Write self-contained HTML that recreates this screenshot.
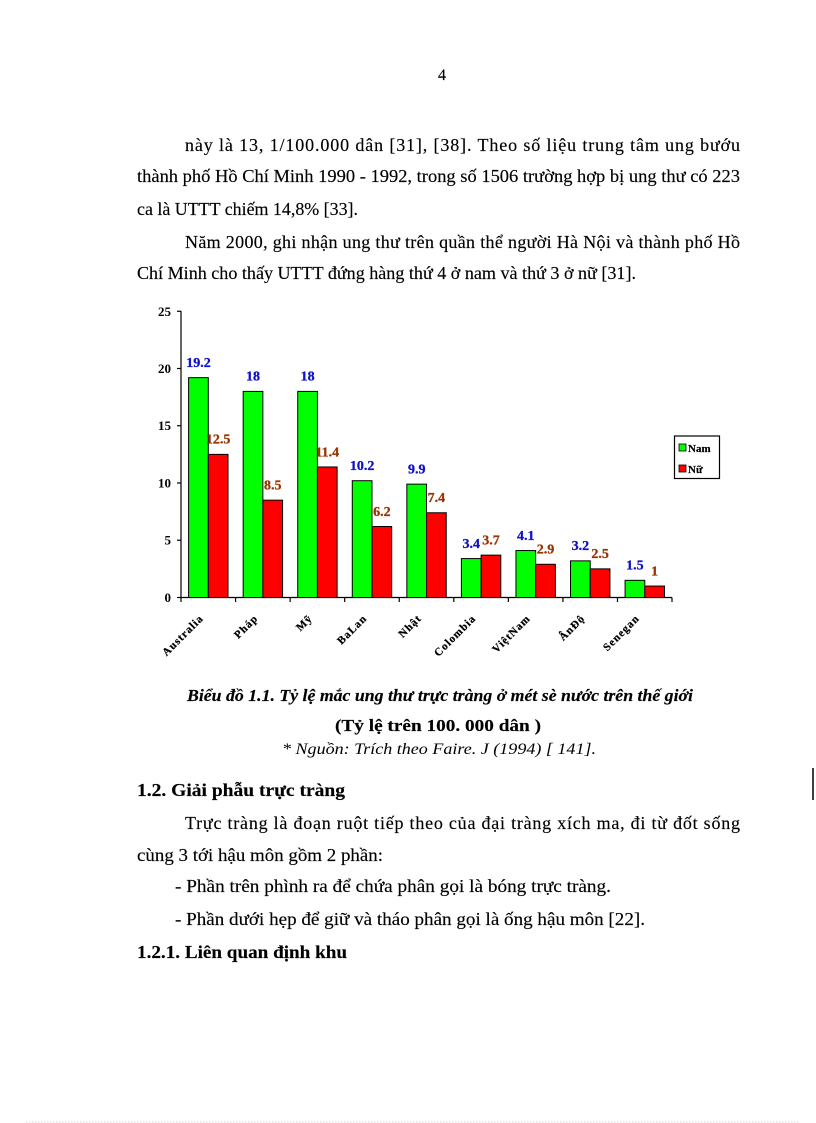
<!DOCTYPE html>
<html><head><meta charset="utf-8"><style>
html,body{margin:0;padding:0;background:#fff;}
svg{display:block;}
.t{font-family:"Liberation Serif","Noto Serif CJK SC",serif;font-size:18px;fill:#000;stroke:#000;stroke-width:0.15;}
.ax{font-family:"Liberation Serif",serif;font-weight:bold;font-size:13px;fill:#000;}
.gl{font-family:"Liberation Serif",serif;font-weight:bold;font-size:14px;fill:#1010c8;stroke:#1010c8;stroke-width:0.3;}
.rl{font-family:"Liberation Serif",serif;font-weight:bold;font-size:14px;fill:#993300;stroke:#993300;stroke-width:0.3;}
.cl{font-family:"Liberation Serif",serif;font-weight:bold;font-size:11px;fill:#000;letter-spacing:1px;stroke:#000;stroke-width:0.25;}
</style></head><body>
<svg width="816" height="1123" viewBox="0 0 816 1123" xmlns="http://www.w3.org/2000/svg">
<rect width="816" height="1123" fill="#fff"/>
<text class="t" x="442" y="80" text-anchor="middle" style="font-size:16px">4</text>

<text class="t" x="185" y="151" textLength="555" lengthAdjust="spacing">này là 13, 1/100.000 dân [31], [38]. Theo số liệu trung tâm ung bướu</text>
<text class="t" x="137" y="182" textLength="603" lengthAdjust="spacingAndGlyphs">thành phố Hồ Chí Minh 1990 - 1992, trong số 1506 trường hợp bị ung thư có 223</text>
<text class="t" x="137" y="215" textLength="221" lengthAdjust="spacingAndGlyphs">ca là UTTT chiếm 14,8% [33].</text>
<text class="t" x="185" y="248" textLength="555" lengthAdjust="spacing">Năm 2000, ghi nhận ung thư trên quần thể người Hà Nội và thành phố Hồ</text>
<text class="t" x="137" y="279" textLength="499" lengthAdjust="spacingAndGlyphs">Chí Minh cho thấy UTTT đứng hàng thứ 4 ở nam và thứ 3 ở nữ [31].</text>

<!-- chart -->
<g class="ax" text-anchor="end">
<text x="171" y="316">25</text>
<text x="171" y="373">20</text>
<text x="171" y="430">15</text>
<text x="171" y="487.5">10</text>
<text x="171" y="544.5">5</text>
<text x="171" y="602">0</text>
</g>
<g stroke="#000" stroke-width="1.2" fill="none">
<line x1="181" y1="311" x2="181" y2="602"/>
<line x1="177" y1="311.25" x2="181" y2="311.25"/>
<line x1="177" y1="368.5" x2="181" y2="368.5"/>
<line x1="177" y1="425.75" x2="181" y2="425.75"/>
<line x1="177" y1="483" x2="181" y2="483"/>
<line x1="177" y1="540.25" x2="181" y2="540.25"/>
<line x1="177" y1="597.5" x2="181" y2="597.5"/>
<line x1="181" y1="597.5" x2="672" y2="597.5"/>
<line x1="235.56" y1="597.5" x2="235.56" y2="602"/>
<line x1="290.12" y1="597.5" x2="290.12" y2="602"/>
<line x1="344.68" y1="597.5" x2="344.68" y2="602"/>
<line x1="399.24" y1="597.5" x2="399.24" y2="602"/>
<line x1="453.8" y1="597.5" x2="453.8" y2="602"/>
<line x1="508.36" y1="597.5" x2="508.36" y2="602"/>
<line x1="562.92" y1="597.5" x2="562.92" y2="602"/>
<line x1="617.48" y1="597.5" x2="617.48" y2="602"/>
<line x1="672" y1="597.5" x2="672" y2="602"/>
</g>
<g stroke="#000" stroke-width="1">
<rect x="188.6" y="377.66" width="19.7" height="219.84" fill="#00ff00"/>
<rect x="208.3" y="454.37" width="19.7" height="143.13" fill="#ff0000"/>
<rect x="243.16" y="391.4" width="19.7" height="206.1" fill="#00ff00"/>
<rect x="262.86" y="500.17" width="19.7" height="97.33" fill="#ff0000"/>
<rect x="297.72" y="391.4" width="19.7" height="206.1" fill="#00ff00"/>
<rect x="317.42" y="466.97" width="19.7" height="130.53" fill="#ff0000"/>
<rect x="352.28" y="480.71" width="19.7" height="116.79" fill="#00ff00"/>
<rect x="371.98" y="526.51" width="19.7" height="70.99" fill="#ff0000"/>
<rect x="406.84" y="484.14" width="19.7" height="113.36" fill="#00ff00"/>
<rect x="426.54" y="512.77" width="19.7" height="84.73" fill="#ff0000"/>
<rect x="461.4" y="558.57" width="19.7" height="38.93" fill="#00ff00"/>
<rect x="481.1" y="555.13" width="19.7" height="42.37" fill="#ff0000"/>
<rect x="515.96" y="550.55" width="19.7" height="46.95" fill="#00ff00"/>
<rect x="535.66" y="564.29" width="19.7" height="33.21" fill="#ff0000"/>
<rect x="570.52" y="560.86" width="19.7" height="36.64" fill="#00ff00"/>
<rect x="590.22" y="568.87" width="19.7" height="28.63" fill="#ff0000"/>
<rect x="625.08" y="580.32" width="19.7" height="17.18" fill="#00ff00"/>
<rect x="644.78" y="586.05" width="19.7" height="11.45" fill="#ff0000"/>
</g>
<g class="gl" text-anchor="middle">
<text x="198.45" y="367">19.2</text>
<text x="253.01" y="380.7">18</text>
<text x="307.57" y="380.7">18</text>
<text x="362.13" y="470">10.2</text>
<text x="416.69" y="473.4">9.9</text>
<text x="471.25" y="547.9">3.4</text>
<text x="525.81" y="539.9">4.1</text>
<text x="580.37" y="550.2">3.2</text>
<text x="634.93" y="569.6">1.5</text>
</g>
<g class="rl" text-anchor="middle">
<text x="218.15" y="443.7">12.5</text>
<text x="272.71" y="489.5">8.5</text>
<text x="327.27" y="456.3">11.4</text>
<text x="381.83" y="515.8">6.2</text>
<text x="436.39" y="502.1">7.4</text>
<text x="490.95" y="544.4">3.7</text>
<text x="545.51" y="553.6">2.9</text>
<text x="600.07" y="558.2">2.5</text>
<text x="654.63" y="575.3">1</text>
</g>
<g class="cl" text-anchor="end">
<text x="204" y="619" transform="rotate(-45 204 619)">Australia</text>
<text x="258.5" y="619" transform="rotate(-45 258.5 619)">Pháp</text>
<text x="313" y="619" transform="rotate(-45 313 619)">Mỹ</text>
<text x="367.5" y="619" transform="rotate(-45 367.5 619)">BaLan</text>
<text x="422" y="619" transform="rotate(-45 422 619)">Nhật</text>
<text x="476.5" y="619" transform="rotate(-45 476.5 619)">Colombia</text>
<text x="531" y="619" transform="rotate(-45 531 619)">ViệtNam</text>
<text x="585.5" y="619" transform="rotate(-45 585.5 619)">ÂnĐộ</text>
<text x="640" y="619" transform="rotate(-45 640 619)">Senegan</text>
</g>
<!-- legend -->
<rect x="674.5" y="436" width="45" height="42.5" fill="#fff" stroke="#000" stroke-width="1.2"/>
<rect x="679" y="444" width="7" height="7" fill="#00ff00" stroke="#000" stroke-width="0.8"/>
<rect x="679" y="465" width="7" height="7" fill="#ff0000" stroke="#000" stroke-width="0.8"/>
<text x="688" y="452" style="font-family:'Liberation Serif',serif;font-weight:bold;font-size:11px;stroke:#000;stroke-width:0.2">Nam</text>
<text x="688" y="473" style="font-family:'Liberation Serif',serif;font-weight:bold;font-size:11px;stroke:#000;stroke-width:0.2">Nữ</text>

<text class="t" x="187" y="701" textLength="506" lengthAdjust="spacingAndGlyphs" style="font-weight:bold;font-style:italic;font-size:17px">Biểu đồ 1.1. Tỷ lệ mắc ung thư trực tràng ở mét sè nước trên thế giới</text>
<text class="t" x="335" y="731" textLength="206" lengthAdjust="spacingAndGlyphs" style="font-weight:bold;font-size:17px">(Tỷ lệ trên 100. 000 dân )</text>
<text class="t" x="282" y="754" textLength="314" lengthAdjust="spacingAndGlyphs" style="font-style:italic;font-size:16px;stroke-width:0">* Nguồn: Trích theo Faire. J (1994) [ 141].</text>

<text class="t" x="137" y="796" textLength="208" lengthAdjust="spacingAndGlyphs" style="font-weight:bold">1.2. Giải phẫu trực tràng</text>
<text class="t" x="185" y="829" textLength="555" lengthAdjust="spacing">Trực tràng là đoạn ruột tiếp theo của đại tràng xích ma, đi từ đốt sống</text>
<text class="t" x="137" y="861" textLength="246" lengthAdjust="spacingAndGlyphs">cùng 3 tới hậu môn gồm 2 phần:</text>
<text class="t" x="175" y="892" textLength="436" lengthAdjust="spacingAndGlyphs">- Phần trên phình ra để chứa phân gọi là bóng trực tràng.</text>
<text class="t" x="175" y="925" textLength="470" lengthAdjust="spacingAndGlyphs">- Phần dưới hẹp để giữ và tháo phân gọi là ống hậu môn [22].</text>
<text class="t" x="137" y="958" textLength="210" lengthAdjust="spacingAndGlyphs" style="font-weight:bold">1.2.1. Liên quan định khu</text>

<line x1="813" y1="768" x2="813" y2="800" stroke="#000" stroke-width="1.5"/>
<line x1="26" y1="1122" x2="800" y2="1122" stroke="#ddd" stroke-width="1" stroke-dasharray="1.5 1.5"/>
</svg>
</body></html>
